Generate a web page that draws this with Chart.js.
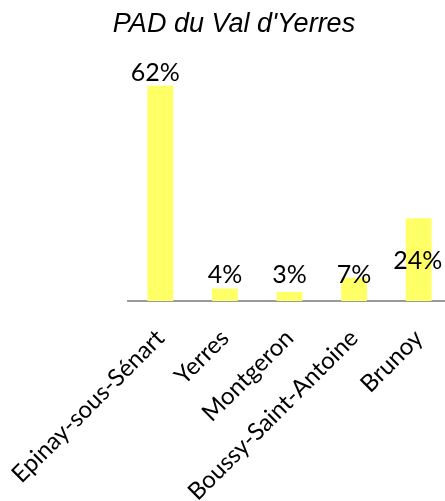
<!DOCTYPE html>
<html>
<head>
<meta charset="utf-8">
<script src="https://cdn.jsdelivr.net/npm/chart.js@4/dist/chart.umd.min.js"></script>
<style>
html,body{margin:0;padding:0;background:#fff;overflow:hidden;width:445px;height:501px;}
#wrap{position:absolute;left:0;top:0;width:451px;height:501px;}
</style>
</head>
<body>
<div id="wrap"><canvas id="c" width="451" height="501"></canvas></div>
<script>
const chartTitle = "PAD du Val d'Yerres";
const categories = ["Epinay-sous-Sénart", "Yerres", "Montgeron", "Boussy-Saint-Antoine", "Brunoy"];
const shares = [62.1, 3.6, 2.6, 6.7, 23.9];
const labelOffsetsY = [-13, -14, -17, -3, 43];
const labelOffsetsX = [-5, 0, 0, 0, -1];

const labelPlugin = {
  id: 'valueLabels',
  afterDatasetsDraw(chart) {
    const ctx = chart.ctx;
    const meta = chart.getDatasetMeta(0);
    ctx.save();
    ctx.font = '25px Lato';
    ctx.fillStyle = '#000';
    ctx.textAlign = 'center';
    ctx.textBaseline = 'middle';
    meta.data.forEach((bar, i) => {
      ctx.fillText(Math.round(shares[i]) + '%', bar.x + labelOffsetsX[i], bar.y + labelOffsetsY[i]);
    });
    ctx.restore();
  }
};

new Chart(document.getElementById('c'), {
  type: 'bar',
  data: {
    labels: categories,
    datasets: [{
      data: shares,
      backgroundColor: '#FFFF66',
      borderWidth: 0,
      barPercentage: 0.4,
      categoryPercentage: 1.0
    }]
  },
  options: {
    responsive: false,
    animation: false,
    devicePixelRatio: 1,
    layout: { padding: { left: 17, right: 0, top: 0, bottom: 0 } },
    plugins: {
      legend: { display: false },
      tooltip: { enabled: false },
      title: {
        display: true,
        text: chartTitle,
        color: '#000',
        font: { family: 'Liberation Sans', size: 27, style: 'italic', weight: 'normal', lineHeight: 1.2 },
        padding: { top: 8, bottom: 18 }
      }
    },
    scales: {
      x: {
        grid: { display: false, drawTicks: false },
        border: { display: true, color: '#9a9a9a', width: 2 },
        ticks: {
          color: '#000',
          font: { family: 'Lato', size: 24 },
          minRotation: 45,
          maxRotation: 45,
          padding: 23,
          autoSkip: false
        },
        afterFit(axis) { axis.height = 200; axis.paddingLeft = 0; axis.paddingRight = 0; }
      },
      y: {
        display: true,
        min: 0,
        max: 70,
        grid: { display: false, drawTicks: false },
        border: { display: false },
        ticks: { display: false },
        afterFit(axis) { axis.width = 111; }
      }
    }
  },
  plugins: [labelPlugin]
});
</script>
</body>
</html>
